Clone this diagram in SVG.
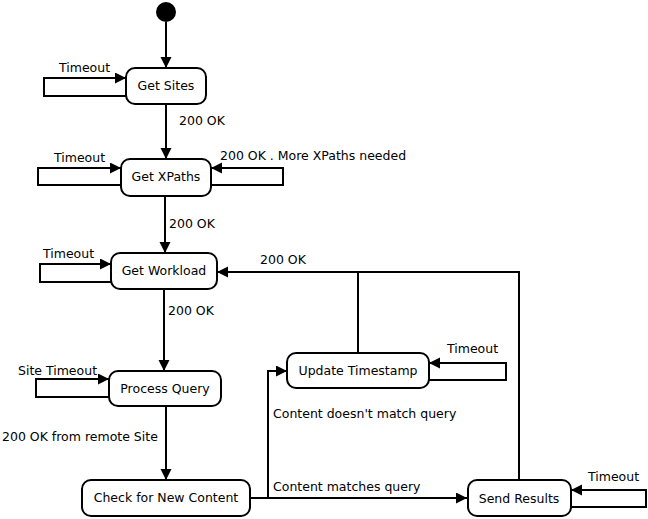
<svg xmlns="http://www.w3.org/2000/svg" width="648" height="519" viewBox="0 0 648 519">
<style>
.node rect{fill:#fff;stroke:#000;stroke-width:2}
text{font-family:"DejaVu Sans","Liberation Sans",sans-serif;font-size:12.5px;fill:#000}
.node text{text-anchor:middle}
#connectors path{fill:none;stroke:#000;stroke-width:2}
</style>
<defs>
<marker id="arr" markerUnits="userSpaceOnUse" markerWidth="12" markerHeight="12" refX="11" refY="5.5" orient="auto">
<path d="M0,0 L11,5.5 L0,11 z" fill="#000"/>
</marker>
</defs>
<rect width="648" height="519" fill="#fff"/>
<g id="connectors">
<path d="M166,22 L166,68" marker-end="url(#arr)"/>
<path d="M126,96 L44,96 L44,78 L126,78" marker-end="url(#arr)"/>
<path d="M166,104 L166,159" marker-end="url(#arr)"/>
<path d="M121,185 L38,185 L38,168 L121,168" marker-end="url(#arr)"/>
<path d="M211,185 L283,185 L283,168 L211,168" marker-end="url(#arr)"/>
<path d="M165,196 L165,253" marker-end="url(#arr)"/>
<path d="M111,282 L40,282 L40,264 L111,264" marker-end="url(#arr)"/>
<path d="M164,289 L164,371" marker-end="url(#arr)"/>
<path d="M109,397 L36,397 L36,379 L109,379" marker-end="url(#arr)"/>
<path d="M166,406 L166,480" marker-end="url(#arr)"/>
<path d="M250,498 L268,498 L268,371 L287,371" marker-end="url(#arr)"/>
<path d="M250,498 L467,498" marker-end="url(#arr)"/>
<path d="M358,353 L358,272 L217,272" marker-end="url(#arr)"/>
<path d="M519,480 L519,272 L358,272"/>
<path d="M429,380 L506,380 L506,363 L429,363" marker-end="url(#arr)"/>
<path d="M571,507 L646,507 L646,490 L571,490" marker-end="url(#arr)"/>
<text x="59" y="72">Timeout</text>
<text x="179" y="125">200 OK</text>
<text x="54" y="162">Timeout</text>
<text x="220" y="160">200 OK . More XPaths needed</text>
<text x="169" y="228">200 OK</text>
<text x="43" y="258">Timeout</text>
<text x="260" y="264">200 OK</text>
<text x="168" y="315">200 OK</text>
<text x="18" y="375">Site Timeout</text>
<text x="447" y="353">Timeout</text>
<text x="273" y="418">Content doesn't match query</text>
<text x="2" y="441">200 OK from remote Site</text>
<text x="273" y="491">Content matches query</text>
<text x="588" y="481">Timeout</text>
</g>
<circle id="start" cx="166" cy="12" r="10" fill="#000"/>
<g id="getSites" class="node"><rect x="126" y="68" width="80" height="36" rx="9"/><text x="166" y="90">Get Sites</text></g>
<g id="getXPaths" class="node"><rect x="121" y="159" width="90" height="37" rx="9"/><text x="166" y="181">Get XPaths</text></g>
<g id="getWorkload" class="node"><rect x="111" y="253" width="106" height="36" rx="9"/><text x="164" y="275">Get Workload</text></g>
<g id="processQuery" class="node"><rect x="109" y="371" width="112" height="35" rx="9"/><text x="165" y="393">Process Query</text></g>
<g id="updateTimestamp" class="node"><rect x="287" y="353" width="142" height="35" rx="9"/><text x="358" y="375">Update Timestamp</text></g>
<g id="checkContent" class="node"><rect x="82" y="480" width="168" height="36" rx="9"/><text x="166" y="502">Check for New Content</text></g>
<g id="sendResults" class="node"><rect x="468" y="480" width="103" height="36" rx="9"/><text x="519" y="503">Send Results</text></g>
</svg>
